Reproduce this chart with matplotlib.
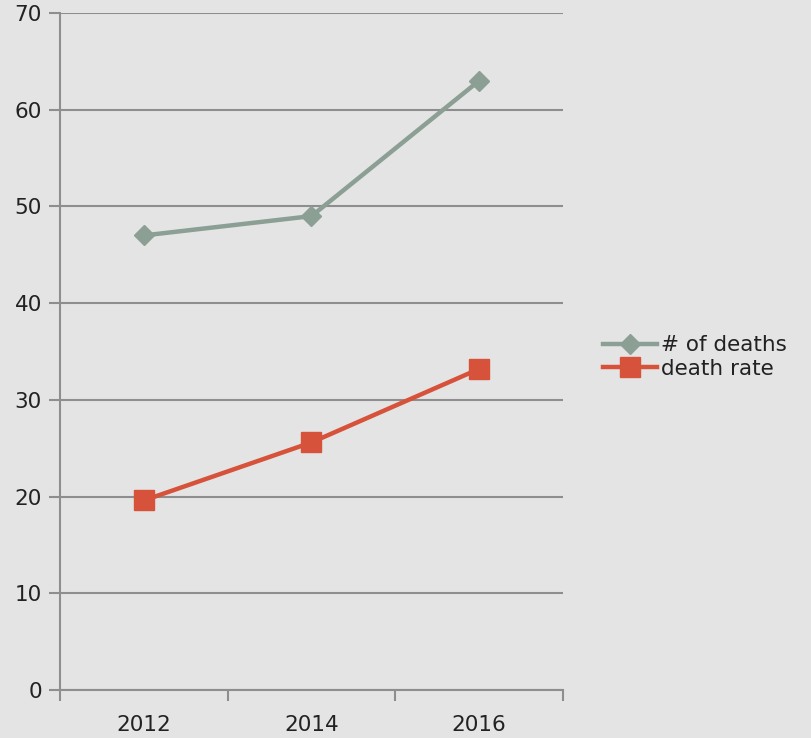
import matplotlib
matplotlib.use("Agg")
import matplotlib.pyplot as plt
from matplotlib.lines import Line2D

years = ["2012", "2014", "2016"]
num_deaths = [47, 49, 63]
death_rate = [19.6, 25.6, 33.2]

BG = "#e4e4e4"
GRID = "#8e8e8e"
GREEN = "#8b9f94"
RED = "#d6523a"

plt.rcParams["font.family"] = ["DejaVu Sans"]

fig = plt.figure(figsize=(8.12, 7.38), dpi=100, facecolor=BG)
ax = fig.add_axes([60 / 812, 1 - 690 / 738, 503 / 812, 677 / 738], facecolor=BG)

x = range(len(years))
ax.plot(x, num_deaths, color=GREEN, lw=3.2, marker="D", ms=10, mec=GREEN, mfc=GREEN,
        label="# of deaths", zorder=3)
ax.plot(x, death_rate, color=RED, lw=3.2, marker="s", ms=14, mec=RED, mfc=RED,
        label="death rate", zorder=3)

ax.set_xlim(-0.5, 2.5)
ax.set_ylim(0, 70)
ax.set_yticks(range(0, 71, 10))
ax.yaxis.grid(True, color=GRID, lw=1.5)
ax.set_axisbelow(True)

# category labels centred, tick marks on the category boundaries
ax.set_xticks([-0.5, 0.5, 1.5, 2.5])
ax.set_xticklabels([])
ax.set_xticks(list(x), minor=True)
ax.set_xticklabels(years, minor=True)
ax.tick_params(axis="x", which="major", direction="out", length=8, width=1.5, color=GRID)
ax.tick_params(axis="x", which="minor", length=0, pad=18, labelsize=15.5, labelcolor="#222222")
ax.tick_params(axis="y", direction="out", length=8, width=1.5, color=GRID, pad=5,
               labelsize=15.5, labelcolor="#222222")

for s in ["top", "right"]:
    ax.spines[s].set_visible(False)
for s in ["left", "bottom"]:
    ax.spines[s].set_color(GRID)
    ax.spines[s].set_linewidth(1.5)

handles = [
    Line2D([], [], color=GREEN, lw=3.2, marker="D", ms=10, mfc=GREEN, mec=GREEN),
    Line2D([], [], color=RED, lw=3.2, marker="s", ms=14, mfc=RED, mec=RED),
]
leg = fig.legend(handles, ["# of deaths", "death rate"], loc="center left",
                 bbox_to_anchor=(603 / 812, 1 - 357 / 738), frameon=False, fontsize=15.5,
                 handlelength=2.5, handletextpad=0.2, labelspacing=0.15, borderaxespad=0,
                 borderpad=0)
for t in leg.get_texts():
    t.set_color("#222222")

fig.savefig("out.png", dpi=100, facecolor=BG)
